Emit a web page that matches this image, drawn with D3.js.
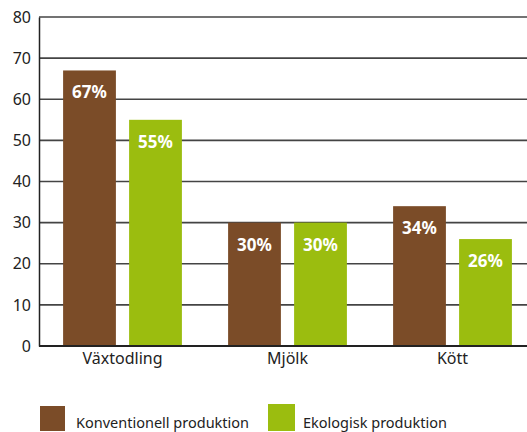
<!DOCTYPE html>
<html><head><meta charset="utf-8">
<script src="https://cdn.jsdelivr.net/npm/d3@7"></script>
<style>body{margin:0;background:#fff}svg{display:block}</style>
</head><body>
<svg id="c" width="527" height="432"></svg>
<script>
const categories = ["Växtodling", "Mjölk", "Kött"];
const seriesNames = ["Konventionell produktion", "Ekologisk produktion"];
const konventionell = [67, 30, 34];
const ekologisk = [55, 30, 26];
const yTicks = [0, 10, 20, 30, 40, 50, 60, 70, 80];
const colors = ["#7b4c28", "#9bbd0f"];

const svg = d3.select("#c");
const font = "'Noto Sans', sans-serif";
const x0 = 39, yTop = 17, yBot = 346;
const x = d3.scaleBand().domain(categories).range([40, 535]).paddingInner(0.28).paddingOuter(0.14);
const xs = d3.scaleBand().domain([0, 1]).range([0, x.bandwidth()]).paddingInner(0.2);
const y = d3.scaleLinear().domain([0, 80]).range([yBot, yTop]);

// gridlines
svg.append("g").selectAll("line").data(yTicks.filter(d => d > 0)).join("line")
  .attr("x1", x0).attr("x2", 527).attr("y1", d => y(d)).attr("y2", d => y(d))
  .attr("stroke", "#444").attr("stroke-width", 1.6);

const data = categories.map((c, i) => ({c, v: [konventionell[i], ekologisk[i]]}));
const g = svg.append("g");
data.forEach(d => {
  d.v.forEach((v, j) => {
    const bx = x(d.c) + xs(j);
    g.append("rect").attr("x", bx).attr("y", y(v)).attr("width", xs.bandwidth())
      .attr("height", y(0) - y(v)).attr("fill", colors[j]);
    g.append("text").attr("x", bx + xs.bandwidth() / 2).attr("y", y(v) + 28)
      .attr("text-anchor", "middle").attr("fill", "#fff").attr("font-weight", "bold")
      .attr("font-family", font).attr("font-size", 17).text(v + "%");
  });
});

// y axis
const ya = d3.axisLeft(y).tickValues(yTicks).tickSize(0).tickPadding(8);
const yg = svg.append("g").attr("transform", `translate(${x0},0)`).call(ya);
yg.select(".domain").attr("stroke", "#222").attr("stroke-width", 1.5);
yg.selectAll("text").attr("font-family", font).attr("font-size", 16).attr("fill", "#222");

// baseline
svg.append("line").attr("x1", x0).attr("x2", 527).attr("y1", yBot).attr("y2", yBot)
  .attr("stroke", "#222").attr("stroke-width", 2);

// x axis
const xa = d3.axisBottom(x).tickSize(0).tickPadding(7);
const xg = svg.append("g").attr("transform", `translate(0,${yBot})`).call(xa);
xg.select(".domain").remove();
xg.selectAll("text").attr("font-family", font).attr("font-size", 16).attr("fill", "#222");

// legend
const leg = [{x: 40, y: 406, s: 25, tx: 76}, {x: 268, y: 404, s: 27, tx: 303}];
seriesNames.forEach((n, i) => {
  svg.append("rect").attr("x", leg[i].x).attr("y", leg[i].y).attr("width", leg[i].s)
    .attr("height", 431 - leg[i].y).attr("fill", colors[i]);
  svg.append("text").attr("x", leg[i].tx).attr("y", 428).attr("font-family", font)
    .attr("font-size", 14.5).attr("fill", "#222").text(n);
});
</script>
</body></html>
